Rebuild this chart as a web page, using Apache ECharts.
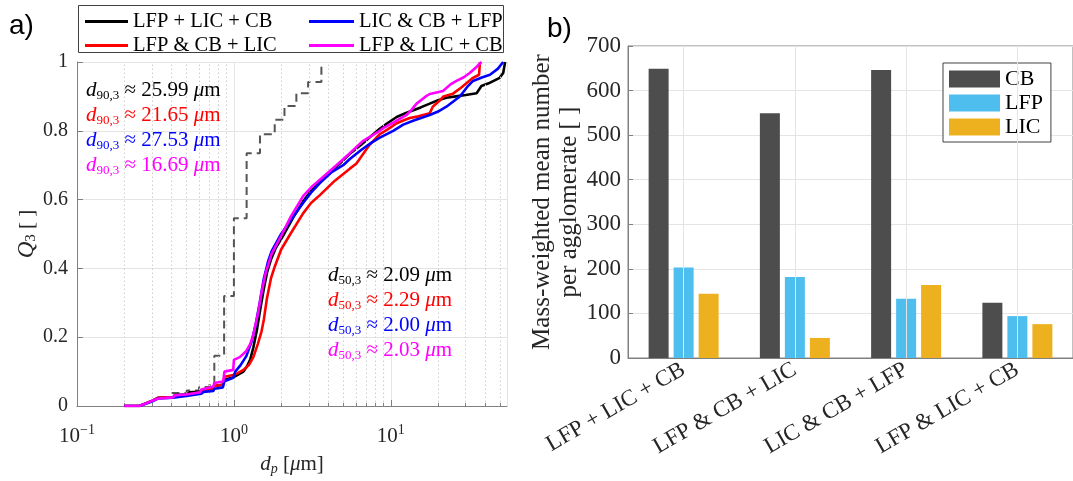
<!DOCTYPE html>
<html>
<head>
<meta charset="utf-8">
<script src="https://cdn.jsdelivr.net/npm/echarts@6.0.0/dist/echarts.min.js"></script>
<style>
html, body { margin: 0; padding: 0; background: #fff; }
#chart { width: 1073px; height: 481px; }
</style>
</head>
<body>
<div id="chart"></div>
<script>
// ---- panel a): cumulative volume distributions Q3(dp) ----
const psdNames = ['LFP + LIC + CB', 'LFP & CB + LIC', 'LIC & CB + LFP', 'LFP & LIC + CB'];
const psdColors = ['#000000', '#ff0000', '#0000ff', '#ff00ff'];

const q3LfpLicCb = [[0.20,0],[0.25,0],[0.30,0.015],[0.33,0.024],[0.41,0.026],[0.42,0.032],[0.51,0.034],[0.52,0.040],[0.62,0.042],[0.64,0.048],[0.74,0.052],[0.75,0.058],[0.85,0.062],[0.87,0.076],[0.99,0.083],[1.05,0.090],[1.15,0.100],[1.21,0.115],[1.27,0.135],[1.33,0.170],[1.40,0.220],[1.47,0.280],[1.55,0.340],[1.63,0.390],[1.72,0.425],[1.85,0.460],[2.09,0.500],[2.40,0.550],[2.76,0.595],[3.10,0.625],[3.53,0.650],[4.20,0.685],[4.73,0.705],[5.48,0.733],[6.50,0.760],[7.50,0.785],[8.50,0.806],[9.50,0.822],[10.9,0.840],[12.5,0.852],[13.9,0.860],[15.5,0.868],[17.7,0.879],[20.0,0.889],[22.6,0.896],[25.99,0.900],[30.0,0.904],[35.2,0.909],[37.8,0.930],[42.0,0.938],[49.4,0.954],[52.0,0.968],[53.5,1.000]];
const q3LfpCbLic = [[0.20,0],[0.25,0],[0.30,0.015],[0.33,0.024],[0.41,0.026],[0.42,0.031],[0.51,0.033],[0.52,0.038],[0.62,0.040],[0.64,0.046],[0.74,0.050],[0.75,0.058],[0.85,0.062],[0.87,0.085],[0.99,0.090],[1.05,0.095],[1.15,0.105],[1.25,0.120],[1.33,0.142],[1.42,0.180],[1.50,0.217],[1.55,0.250],[1.62,0.310],[1.72,0.370],[1.82,0.405],[2.00,0.455],[2.29,0.500],[2.76,0.560],[3.10,0.590],[3.53,0.613],[4.40,0.655],[5.48,0.690],[6.04,0.705],[7.34,0.760],[8.50,0.790],[9.60,0.805],[10.9,0.822],[12.0,0.830],[13.2,0.837],[15.0,0.842],[17.7,0.851],[18.5,0.870],[20.5,0.888],[21.65,0.900],[24.9,0.908],[28.0,0.925],[33.4,0.954],[36.5,0.963],[37.0,1.000]];
const q3LicCbLfp = [[0.20,0],[0.25,0],[0.30,0.013],[0.33,0.022],[0.41,0.024],[0.42,0.028],[0.51,0.030],[0.52,0.034],[0.62,0.036],[0.64,0.041],[0.74,0.044],[0.75,0.050],[0.85,0.054],[0.87,0.072],[0.99,0.082],[1.02,0.100],[1.10,0.118],[1.20,0.145],[1.30,0.189],[1.38,0.240],[1.46,0.300],[1.55,0.370],[1.65,0.420],[1.74,0.450],[2.00,0.500],[2.30,0.540],[2.76,0.590],[3.10,0.620],[3.53,0.648],[4.20,0.680],[4.97,0.700],[5.48,0.718],[6.50,0.745],[7.50,0.765],[8.51,0.780],[10.35,0.800],[12.0,0.818],[14.0,0.830],[17.7,0.846],[20.0,0.856],[22.6,0.870],[25.0,0.885],[27.53,0.900],[28.9,0.912],[31.0,0.930],[33.4,0.945],[38.0,0.955],[42.8,0.963],[48.0,0.980],[52.0,1.000]];
const q3LfpLicCb2 = [[0.20,0],[0.25,0],[0.30,0.015],[0.33,0.022],[0.41,0.025],[0.42,0.031],[0.51,0.034],[0.52,0.038],[0.61,0.040],[0.62,0.048],[0.74,0.057],[0.75,0.067],[0.855,0.071],[0.87,0.100],[0.99,0.105],[1.00,0.134],[1.09,0.142],[1.20,0.160],[1.27,0.180],[1.33,0.207],[1.43,0.273],[1.50,0.330],[1.60,0.390],[1.74,0.442],[2.03,0.500],[2.30,0.550],[2.76,0.610],[3.10,0.635],[3.53,0.658],[4.50,0.700],[5.48,0.735],[6.67,0.771],[8.50,0.800],[8.94,0.808],[10.5,0.825],[12.6,0.846],[13.5,0.860],[14.6,0.879],[16.69,0.900],[17.7,0.907],[21.5,0.916],[24.0,0.935],[26.2,0.945],[29.0,0.955],[31.8,0.968],[35.0,0.985],[37.8,1.000]];
const q3Curves = [q3LfpLicCb, q3LfpCbLic, q3LicCbLfp, q3LfpLicCb2];

// stepped reference distribution (dashed)
const q3Stepped = [[0.40,0.038],[0.50,0.045],[0.60,0.055],[0.70,0.067],[0.75,0.146],[0.866,0.320],[1.00,0.546],[1.205,0.735],[1.466,0.790],[1.82,0.832],[2.10,0.872],[2.50,0.909],[2.97,0.942],[3.61,0.988]];

const d90Values = ['25.99', '21.65', '27.53', '16.69'];
const d50Values = ['2.09', '2.29', '2.00', '2.03'];

const dpMin = 0.1, dpMax = 55;

// ---- panel b): mass-weighted mean number per agglomerate ----
const mixCategories = ['LFP + LIC + CB', 'LFP & CB + LIC', 'LIC & CB + LFP', 'LFP & LIC + CB'];
const barNames = ['CB', 'LFP', 'LIC'];
const barColors = ['#4d4d4d', '#4dbeee', '#edb120'];
const countCB = [649, 549, 646, 124];
const countLFP = [203, 182, 133, 94];
const countLIC = [144, 45, 164, 76];
const barValues = [countCB, countLFP, countLIC];

// minor log gridlines (2..9 x each decade) inside the axis range
const minorGrid = [];
for (let e = -1; e <= 1; e++) {
  for (let k = 2; k <= 9; k++) {
    const v = k * Math.pow(10, e);
    if (v < dpMax) minorGrid.push(+v.toPrecision(3));
  }
}

const SERIF = 'Liberation Serif';
const TXT = '#262626';
const AXIS = '#808080';
const GRID = '#e4e4e4';

const chart = echarts.init(document.getElementById('chart'), null, { renderer: 'canvas' });

const series = [];

// minor gridlines and minor ticks of the log axis
series.push({
  type: 'line', xAxisIndex: 0, yAxisIndex: 0, data: [], silent: true, z: 0,
  markLine: {
    silent: true, symbol: 'none', animation: false, label: { show: false },
    lineStyle: { color: '#cfcfcf', type: [1.5, 2.5], width: 1 },
    data: minorGrid.map(v => ({ xAxis: v }))
  }
});
series.push({
  type: 'line', xAxisIndex: 0, yAxisIndex: 0, data: [], silent: true, z: 1,
  markLine: {
    silent: true, symbol: 'none', animation: false, label: { show: false },
    lineStyle: { color: AXIS, type: 'solid', width: 1 },
    data: minorGrid.map(v => [{ coord: [v, 0] }, { coord: [v, 0.009] }])
  }
});

series.push({
  type: 'line', name: 'stepped', xAxisIndex: 0, yAxisIndex: 0,
  data: q3Stepped, step: 'end', symbol: 'none', z: 3,
  lineStyle: { color: '#555555', width: 2, type: [8, 5] },
  itemStyle: { color: '#555555' }
});

psdNames.forEach((name, i) => {
  series.push({
    type: 'line', name, xAxisIndex: 0, yAxisIndex: 0,
    data: q3Curves[i], symbol: 'none', z: 4 + i,
    lineStyle: { color: psdColors[i], width: 2.6 },
    itemStyle: { color: psdColors[i] }
  });
});

// category-centred vertical gridlines for the bar panel
series.push({
  type: 'line', xAxisIndex: 1, yAxisIndex: 1, data: [], silent: true, z: 0,
  markLine: {
    silent: true, symbol: 'none', animation: false, label: { show: false },
    lineStyle: { color: GRID, type: 'solid', width: 1 },
    data: mixCategories.map(c => ({ xAxis: c }))
  }
});

barNames.forEach((name, i) => {
  series.push({
    type: 'bar', name, xAxisIndex: 1, yAxisIndex: 1,
    data: barValues[i], barWidth: 20, barGap: '25%', z: 3,
    itemStyle: { color: barColors[i] }
  });
});

function annot(x, y, sub, val, color) {
  return {
    type: 'text', left: x, top: y, silent: true, z: 100,
    style: {
      text: '{d|d}{s|' + sub + '}{t| ≈ ' + val + ' }{d|μ}{t|m}',
      fill: color,
      rich: {
        d: { fontFamily: SERIF, fontStyle: 'italic', fontSize: 21, lineHeight: 24, fill: color },
        t: { fontFamily: SERIF, fontSize: 21, lineHeight: 24, fill: color },
        s: { fontFamily: SERIF, fontSize: 13, lineHeight: 12, verticalAlign: 'bottom', fill: color }
      }
    }
  };
}

const graphics = [
  { type: 'text', left: 9, top: 12, style: { text: 'a)', font: '28px "Liberation Sans"', fill: '#000' } },
  { type: 'text', left: 547, top: 15, style: { text: 'b)', font: '28px "Liberation Sans"', fill: '#000' } },
  { type: 'rect', left: 78, top: 5, shape: { width: 425, height: 47 }, style: { fill: '#fff', stroke: '#404040', lineWidth: 1 }, z: 0 }
];
psdNames.forEach((n, i) => {
  graphics.push(annot(86, 80 + 25 * i, '90,3', d90Values[i], psdColors[i]));
  graphics.push(annot(328, 265 + 25 * i, '50,3', d50Values[i], psdColors[i]));
});

const option = {
  animation: false,
  backgroundColor: '#ffffff',
  textStyle: { fontFamily: SERIF, color: TXT },
  graphic: graphics,
  legend: [
    {
      data: [psdNames[0], psdNames[1]], left: 80, top: 6, orient: 'vertical',
      icon: 'rect', itemWidth: 43, itemHeight: 3, itemGap: 3, z: 10,
      textStyle: { fontFamily: SERIF, fontSize: 20.5, color: '#000', lineHeight: 21 }
    },
    {
      data: [psdNames[2], psdNames[3]], left: 304, top: 6, orient: 'vertical',
      icon: 'rect', itemWidth: 45, itemHeight: 3, itemGap: 3, z: 10,
      textStyle: { fontFamily: SERIF, fontSize: 20.5, color: '#000', lineHeight: 21 }
    },
    {
      data: barNames, left: 943, top: 63, orient: 'vertical',
      icon: 'rect', itemWidth: 51, itemHeight: 17, itemGap: 2,
      padding: [5, 8, 4, 6], borderColor: '#404040', borderWidth: 1, backgroundColor: '#fff',
      textStyle: { fontFamily: SERIF, fontSize: 22, color: '#000', lineHeight: 17 }
    }
  ],
  grid: [
    { left: 77, top: 62, width: 430, height: 355 },
    { left: 628, top: 46, width: 453, height: 312, show: true, borderColor: AXIS, borderWidth: 1 }
  ],
  xAxis: [
    {
      type: 'log', logBase: 10, gridIndex: 0, min: dpMin, max: dpMax,
      axisLine: { lineStyle: { color: AXIS } },
      axisTick: { inside: true, length: 6, lineStyle: { color: AXIS } },
      splitLine: { show: true, lineStyle: { color: GRID } },
      axisLabel: {
        margin: 17, showMaxLabel: false, color: TXT,
        formatter: v => {
          const e = Math.log10(v);
          if (Math.abs(e - Math.round(e)) > 1e-6) return '';
          const r = Math.round(e);
          return '{b|10}{p|' + (r < 0 ? '−' + (-r) : r) + '}';
        },
        rich: {
          b: { fontFamily: SERIF, fontSize: 21, lineHeight: 26, color: TXT },
          p: { fontFamily: SERIF, fontSize: 14, lineHeight: 14, verticalAlign: 'top', color: TXT }
        }
      },
      name: '{d|d}{s|p} [{d|μ}m]', nameLocation: 'middle', nameGap: 46,
      nameTextStyle: {
        rich: {
          d: { fontFamily: SERIF, fontStyle: 'italic', fontSize: 21, lineHeight: 24, color: TXT },
          s: { fontFamily: SERIF, fontStyle: 'italic', fontSize: 14, lineHeight: 12, verticalAlign: 'bottom', color: TXT }
        },
        fontFamily: SERIF, fontSize: 21, color: TXT
      }
    },
    {
      type: 'category', gridIndex: 1, data: mixCategories,
      axisLine: { lineStyle: { color: AXIS } },
      axisTick: { alignWithLabel: true, inside: true, length: 5, lineStyle: { color: AXIS } },
      axisLabel: { rotate: 30, margin: 10, fontFamily: SERIF, fontSize: 23, color: TXT, interval: 0 },
      splitLine: { show: false }
    }
  ],
  yAxis: [
    {
      type: 'value', gridIndex: 0, min: 0, max: 1, interval: 0.2,
      axisLine: { show: true, lineStyle: { color: AXIS } },
      axisTick: { show: true, inside: true, length: 6, lineStyle: { color: AXIS } },
      splitLine: { show: true, lineStyle: { color: GRID } },
      axisLabel: {
        margin: 9, fontFamily: SERIF, fontSize: 20, color: TXT,
        formatter: v => (v === 0 || v === 1) ? String(v) : v.toFixed(1)
      },
      name: '{q|Q}{s|3} [ ]', nameLocation: 'middle', nameGap: 38,
      nameTextStyle: {
        rich: {
          q: { fontFamily: SERIF, fontStyle: 'italic', fontSize: 23, lineHeight: 24, color: TXT },
          s: { fontFamily: SERIF, fontSize: 15, lineHeight: 12, verticalAlign: 'bottom', color: TXT }
        },
        fontFamily: SERIF, fontSize: 21, color: TXT
      }
    },
    {
      type: 'value', gridIndex: 1, min: 0, max: 700, interval: 100,
      axisLine: { show: true, lineStyle: { color: AXIS } },
      axisTick: { show: true, inside: true, length: 5, lineStyle: { color: AXIS } },
      splitLine: { show: true, lineStyle: { color: GRID } },
      axisLabel: { margin: 7, fontFamily: SERIF, fontSize: 23, color: TXT },
      name: 'Mass-weighted mean number\nper agglomerate [ ]', nameLocation: 'middle', nameGap: 12,
      nameTextStyle: { fontFamily: SERIF, fontSize: 25, lineHeight: 27, color: TXT, verticalAlign: 'bottom' }
    }
  ],
  series
};

chart.setOption(option);
</script>
</body>
</html>
